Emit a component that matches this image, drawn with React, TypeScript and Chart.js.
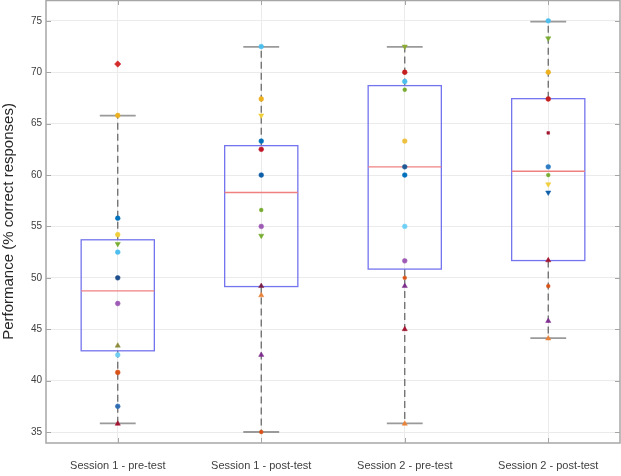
import React, { useEffect, useRef } from "react";
import { Chart, registerables } from "chart.js";

Chart.register(...registerables);

// ---- data ----
const sessionLabels = [
  "Session 1 - pre-test",
  "Session 1 - post-test",
  "Session 2 - pre-test",
  "Session 2 - post-test",
];

const yTicks = [35, 40, 45, 50, 55, 60, 65, 70, 75];

// box statistics
const boxQ1 = [42.9, 49.15, 50.85, 51.68];
const boxMedian = [48.74, 58.3, 60.8, 60.37];
const boxQ3 = [53.7, 62.86, 68.7, 67.43];
const whiskerLow = [35.84, 35.0, 35.84, 44.14];
const whiskerHigh = [65.78, 72.46, 72.46, 74.92];

// individual participants per session
const s1PreValues = [70.8, 65.8, 55.8, 54.2, 53.3, 52.5, 50.0, 47.5, 43.4, 42.5, 40.8, 37.5, 35.8];
const s1PostValues = [72.5, 67.4, 65.8, 63.3, 62.5, 60.0, 56.6, 55.0, 54.1, 49.2, 48.3, 42.5, 35.0];
const s2PreValues = [72.5, 70.0, 69.1, 68.3, 63.3, 60.8, 60.0, 55.0, 51.65, 50.0, 49.2, 45.0, 35.8];
const s2PostValues = [75.0, 73.3, 70.0, 67.4, 64.1, 60.8, 60.0, 59.1, 58.3, 51.7, 49.2, 45.8, 44.1];

// marker kinds and colours per point
const s1PreMarkers = ["diamond", "dot", "dot", "dot", "down", "dot", "dot", "dot", "up", "dot", "dot", "dot", "up"];
const s1PreColors = ["#D42A2A", "#EDB120", "#0072BD", "#F2CF3A", "#77AC30", "#4DBEEE", "#1F4E8C", "#9E5BB5", "#8C8C3C", "#6FCCF2", "#D95319", "#2E6DB4", "#A2142F"];

const s1PostMarkers = ["dot", "dot", "down", "dot", "dot", "dot", "small", "dot", "down", "up", "up", "up", "small"];
const s1PostColors = ["#4DBEEE", "#EDB120", "#F2CF3A", "#0072BD", "#C0182A", "#0F5FA8", "#77AC30", "#9E5BB5", "#77AC30", "#7A1F4A", "#E8833A", "#7E2F8E", "#D95319"];

const s2PreMarkers = ["down", "dot", "dot", "small", "dot", "dot", "dot", "dot", "dot", "small", "up", "up", "up"];
const s2PreColors = ["#8AAA30", "#C41E1E", "#4DBEEE", "#77AC30", "#EDC040", "#1F5A96", "#0072BD", "#6FD0F5", "#9E5BB5", "#D95319", "#7E2F8E", "#A2142F", "#E8833A"];

const s2PostMarkers = ["dot", "down", "dot", "dot", "square", "dot", "small", "down", "down", "up", "small", "up", "up"];
const s2PostColors = ["#4DBEEE", "#77AC30", "#EDB120", "#C41E1E", "#A2142F", "#2E7CC4", "#77AC30", "#F2CF3A", "#0F5FA8", "#A2142F", "#D95319", "#7E2F8E", "#E8833A"];

const sessionValues = [s1PreValues, s1PostValues, s2PreValues, s2PostValues];
const sessionMarkers = [s1PreMarkers, s1PostMarkers, s2PreMarkers, s2PostMarkers];
const sessionColors = [s1PreColors, s1PostColors, s2PreColors, s2PostColors];

// ---- styling ----
const markerStyle: Record<string, { style: string; radius: number; rotation: number }> = {
  dot: { style: "circle", radius: 2.4, rotation: 0 },
  small: { style: "circle", radius: 1.9, rotation: 0 },
  square: { style: "rect", radius: 1.9, rotation: 0 },
  diamond: { style: "rectRot", radius: 3.2, rotation: 0 },
  up: { style: "triangle", radius: 3, rotation: 0 },
  down: { style: "triangle", radius: 3, rotation: 180 },
};

const AXIS_COLOR = "#a6a6a6";
const GRID_COLOR = "#ebebeb";

const boxPlugin = {
  id: "boxes",
  beforeDatasetsDraw(chart: any) {
    const { ctx, chartArea } = chart;
    const xs = chart.scales.x;
    const ys = chart.scales.y;
    ctx.save();
    ctx.beginPath();
    ctx.rect(chartArea.left, chartArea.top, chartArea.right - chartArea.left, chartArea.bottom - chartArea.top);
    ctx.clip();
    for (let i = 0; i < sessionLabels.length; i++) {
      const pos = i + 1;
      const cx = xs.getPixelForValue(pos);
      const hw = xs.getPixelForValue(pos + 0.255) - cx;
      const cw = xs.getPixelForValue(pos + 0.125) - cx;
      const yq1 = ys.getPixelForValue(boxQ1[i]);
      const yq3 = ys.getPixelForValue(boxQ3[i]);
      const ymed = ys.getPixelForValue(boxMedian[i]);
      const ylo = ys.getPixelForValue(whiskerLow[i]);
      const yhi = ys.getPixelForValue(whiskerHigh[i]);

      // whiskers (dashed)
      ctx.strokeStyle = "#6b6b6b";
      ctx.lineWidth = 1.3;
      ctx.setLineDash([7, 4]);
      ctx.beginPath();
      ctx.moveTo(cx, yq3);
      ctx.lineTo(cx, yhi);
      ctx.moveTo(cx, yq1);
      ctx.lineTo(cx, ylo);
      ctx.stroke();
      ctx.setLineDash([]);

      // caps
      ctx.strokeStyle = "#9a9a9a";
      ctx.lineWidth = 1.8;
      ctx.beginPath();
      ctx.moveTo(cx - cw, yhi);
      ctx.lineTo(cx + cw, yhi);
      ctx.moveTo(cx - cw, ylo);
      ctx.lineTo(cx + cw, ylo);
      ctx.stroke();

      // box
      ctx.strokeStyle = "#7474ee";
      ctx.lineWidth = 1.3;
      ctx.strokeRect(cx - hw, yq3, hw * 2, yq1 - yq3);

      // median
      ctx.strokeStyle = "#ef8080";
      ctx.lineWidth = 1.3;
      ctx.beginPath();
      ctx.moveTo(cx - hw, ymed);
      ctx.lineTo(cx + hw, ymed);
      ctx.stroke();
    }
    ctx.restore();
  },
  afterDraw(chart: any) {
    const { ctx, chartArea } = chart;
    const xs = chart.scales.x;
    const ys = chart.scales.y;
    const { left, right, top, bottom } = chartArea;
    ctx.save();
    ctx.strokeStyle = AXIS_COLOR;
    ctx.lineWidth = 1.5;
    // box frame
    ctx.strokeRect(left, top + 0.5, right - left, bottom - top - 0.5);
    // inward ticks
    ctx.lineWidth = 1;
    ctx.beginPath();
    for (const t of yTicks) {
      const y = Math.round(ys.getPixelForValue(t)) + 0.5;
      ctx.moveTo(left, y);
      ctx.lineTo(left + 5, y);
      ctx.moveTo(right, y);
      ctx.lineTo(right - 5, y);
    }
    for (let i = 0; i < sessionLabels.length; i++) {
      const x = Math.round(xs.getPixelForValue(i + 1)) + 0.5;
      ctx.moveTo(x, bottom);
      ctx.lineTo(x, bottom - 5);
      ctx.moveTo(x, top);
      ctx.lineTo(x, top + 5);
    }
    ctx.stroke();
    ctx.restore();
  },
};

export default function App() {
  const canvasRef = useRef<HTMLCanvasElement | null>(null);

  useEffect(() => {
    if (!canvasRef.current) return;
    const datasets = sessionValues.map((vals, i) => ({
      label: sessionLabels[i],
      data: vals.map((v) => ({ x: i + 1, y: v })),
      pointStyle: sessionMarkers[i].map((m) => markerStyle[m].style),
      pointRadius: sessionMarkers[i].map((m) => markerStyle[m].radius),
      pointRotation: sessionMarkers[i].map((m) => markerStyle[m].rotation),
      backgroundColor: sessionColors[i],
      borderColor: sessionColors[i],
      borderWidth: 0.5,
      pointHoverRadius: 0,
    }));

    const chart = new Chart(canvasRef.current, {
      type: "scatter",
      data: { datasets: datasets as any },
      options: {
        animation: false,
        responsive: false,
        events: [],
        layout: { autoPadding: false, padding: { top: 0, right: 1, bottom: 0, left: 0 } },
        plugins: {
          legend: { display: false },
          tooltip: { enabled: false },
        },
        scales: {
          x: {
            type: "linear",
            min: 0.5,
            max: 4.5,
            afterBuildTicks: (scale: any) => {
              scale.ticks = sessionLabels.map((_, i) => ({ value: i + 1 }));
            },
            afterFit: (scale: any) => {
              scale.height = 33;
              scale.paddingLeft = 0;
              scale.paddingRight = 0;
            },
            grid: { color: GRID_COLOR, drawTicks: false },
            border: { display: false },
            ticks: {
              padding: 16,
              color: "#404040",
              font: { family: "'Liberation Sans', Arial, sans-serif", size: 11 },
              callback: (v: any) => sessionLabels[Math.round(Number(v)) - 1] ?? "",
              maxRotation: 0,
              autoSkip: false,
            },
          },
          y: {
            type: "linear",
            min: 33.93,
            max: 77.03,
            afterBuildTicks: (scale: any) => {
              scale.ticks = yTicks.map((v) => ({ value: v }));
            },
            afterFit: (scale: any) => {
              scale.width = 46;
              scale.paddingTop = 0;
              scale.paddingBottom = 0;
            },
            grid: { color: GRID_COLOR, drawTicks: false },
            border: { display: false },
            ticks: {
              padding: 4,
              color: "#404040",
              font: { family: "'Liberation Sans', Arial, sans-serif", size: 10 },
            },
            title: {
              display: true,
              text: "Performance (% correct responses)",
              color: "#262626",
              padding: { top: 0, bottom: 0 },
              font: { family: "'Liberation Sans', Arial, sans-serif", size: 15 },
            },
          },
        },
      },
      plugins: [boxPlugin],
    });
    return () => chart.destroy();
  }, []);

  return (
    <div style={{ position: "absolute", left: 0, top: 0, width: 621, height: 476, background: "#fff" }}>
      <canvas ref={canvasRef} width={621} height={476} />
    </div>
  );
}
